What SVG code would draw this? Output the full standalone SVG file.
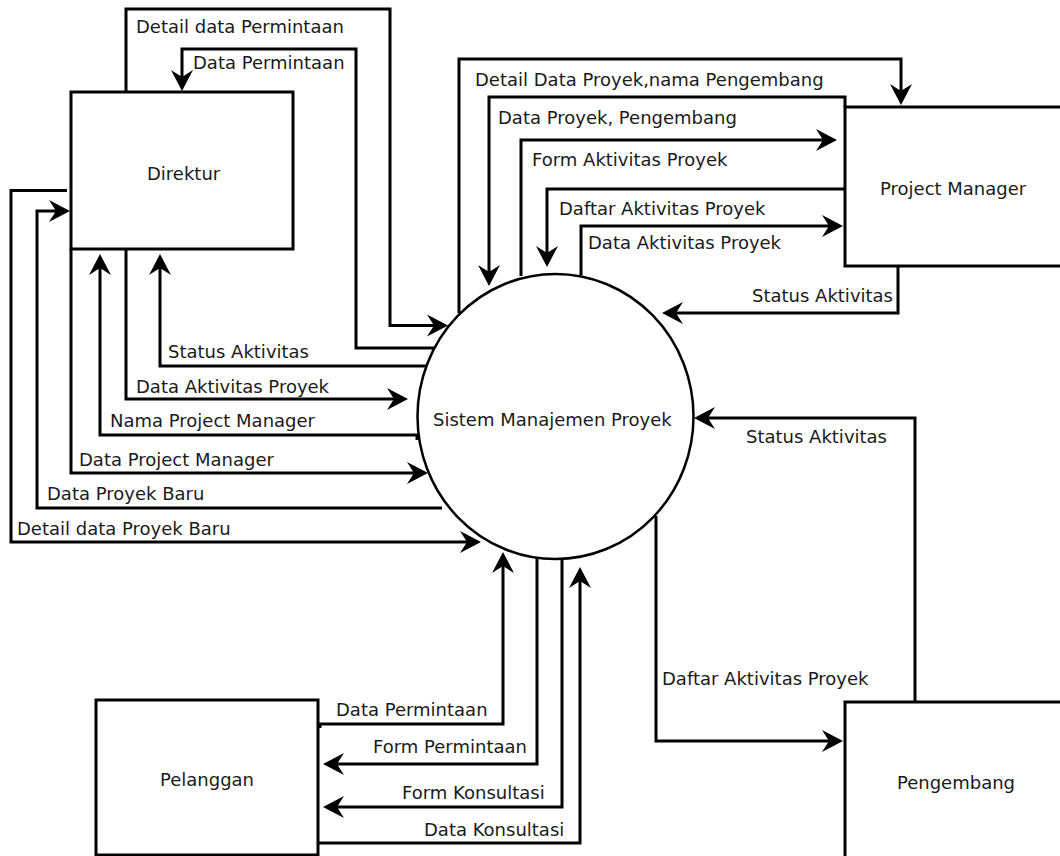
<svg xmlns="http://www.w3.org/2000/svg" width="1060" height="856" viewBox="0 0 1060 856">
  <style>
    .box { fill: #ffffff; stroke: #000000; stroke-width: 3; }
    .proc { fill: #ffffff; stroke: #000000; stroke-width: 2.5; }
    .flow { fill: none; stroke: #000000; stroke-width: 3; stroke-linejoin: miter; marker-end: url(#arrow); }
    .line { fill: none; stroke: #000000; stroke-width: 3; stroke-linejoin: miter; }
    text { font-family: "DejaVu Sans", "Liberation Sans", sans-serif; font-size: 18px; fill: #1a1a1a; }
  </style>
  <defs>
    <!-- filled arrowhead with a notched back; tip sits 10px past the path end -->
    <marker id="arrow" viewBox="-12 -12 24 24" refX="0" refY="0" markerWidth="24" markerHeight="24" markerUnits="userSpaceOnUse" orient="auto">
      <path d="M10,0 L-11,-11 L-4,0 L-11,11 Z" fill="#000000"/>
    </marker>
  </defs>
  <rect width="1060" height="856" fill="#ffffff"/>

  <!-- data flows -->
  <g id="connectors">
    <!-- Direktur <-> Sistem -->
    <path class="flow" d="M126,92 V9 H390 V325.5 H438"/>
    <path class="flow" d="M434,348 H356 V49 H182 V81"/>
    <path class="flow" d="M430,366 H160 V264"/>
    <path class="flow" d="M126,249 V399 H398"/>
    <path class="flow" d="M417,440 V435 H100 V264"/>
    <path class="flow" d="M71,249 V473 H418"/>
    <path class="flow" d="M442,508 H37 V211 H60"/>
    <path class="flow" d="M67,190.5 H11 V542 H471"/>

    <!-- Project Manager <-> Sistem -->
    <path class="flow" d="M459,313 V59 H901 V95"/>
    <path class="flow" d="M845,107 V97 H489 V276"/>
    <path class="flow" d="M521,276 V140 H827"/>
    <path class="flow" d="M845,189 H547 V257"/>
    <path class="flow" d="M581,275 V226 H833"/>
    <path class="flow" d="M898,266 V313 H672"/>

    <!-- Pengembang <-> Sistem -->
    <path class="flow" d="M915,702 V418 H704"/>
    <path class="flow" d="M656,516 V741 H833"/>

    <!-- Pelanggan <-> Sistem -->
    <path class="flow" d="M320,728 V724 H503 V562"/>
    <path class="flow" d="M537,558 V764 H333"/>
    <path class="flow" d="M562,558 V807 H333"/>
    <path class="flow" d="M318,843 H580 V577"/>
  </g>

  <!-- flow labels -->
  <g id="labels">
    <text x="136" y="33">Detail data Permintaan</text>
    <text x="193" y="69">Data Permintaan</text>
    <text x="168" y="358">Status Aktivitas</text>
    <text x="136" y="393">Data Aktivitas Proyek</text>
    <text x="110" y="427">Nama Project Manager</text>
    <text x="79" y="466">Data Project Manager</text>
    <text x="47" y="500">Data Proyek Baru</text>
    <text x="17" y="535">Detail data Proyek Baru</text>

    <text x="475" y="86">Detail Data Proyek,nama Pengembang</text>
    <text x="498" y="124">Data Proyek, Pengembang</text>
    <text x="532" y="166">Form Aktivitas Proyek</text>
    <text x="559" y="215">Daftar Aktivitas Proyek</text>
    <text x="588" y="249">Data Aktivitas Proyek</text>
    <text x="752" y="302">Status Aktivitas</text>

    <text x="746" y="443">Status Aktivitas</text>
    <text x="662" y="685">Daftar Aktivitas Proyek</text>

    <text x="336" y="716">Data Permintaan</text>
    <text x="373" y="753">Form Permintaan</text>
    <text x="402" y="799">Form Konsultasi</text>
    <text x="424" y="836">Data Konsultasi</text>
  </g>

  <g id="direktur">
    <rect class="box" x="71" y="92" width="222" height="157"/>
    <text x="147" y="180">Direktur</text>
  </g>

  <g id="project-manager">
    <rect class="box" x="845" y="107" width="240" height="159"/>
    <text x="880" y="195">Project Manager</text>
  </g>

  <g id="pelanggan">
    <rect class="box" x="96" y="700" width="222" height="155"/>
    <text x="160" y="786">Pelanggan</text>
  </g>

  <g id="pengembang">
    <rect class="box" x="845" y="702" width="240" height="200"/>
    <text x="897" y="789">Pengembang</text>
  </g>

  <g id="sistem-manajemen-proyek">
    <ellipse class="proc" cx="555.5" cy="416.5" rx="138" ry="142.5"/>
    <text x="433" y="426">Sistem Manajemen Proyek</text>
  </g>
</svg>
